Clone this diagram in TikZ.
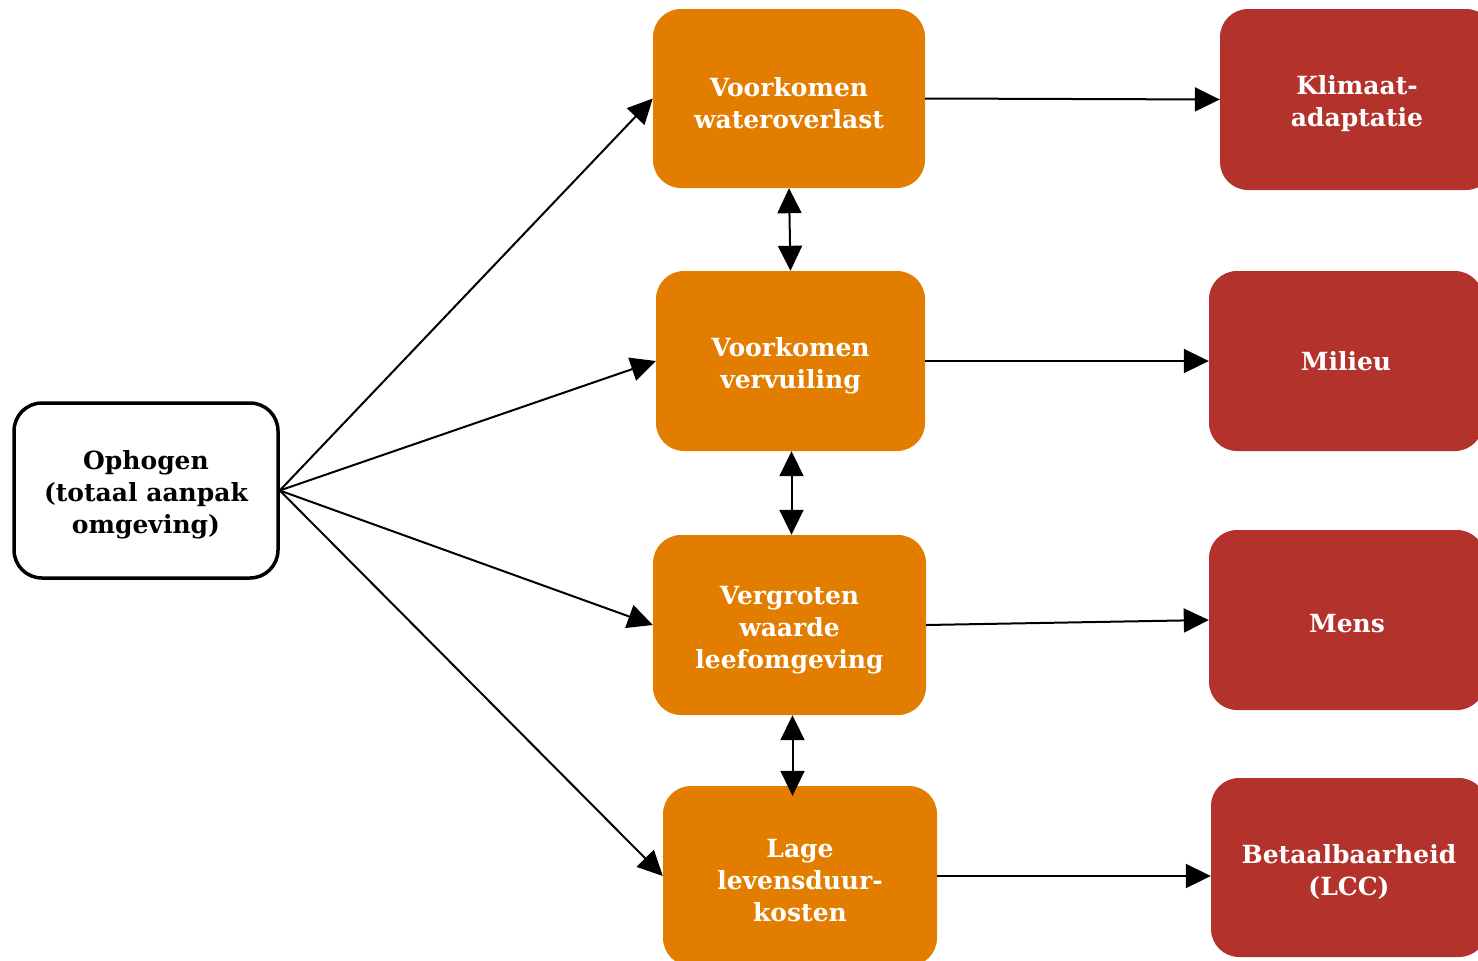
\documentclass[tikz,border=0pt]{standalone}
\usepackage{fontspec}
\setmainfont{DejaVu Serif}
\usetikzlibrary{arrows.meta}
\definecolor{orng}{RGB}{227,125,0}
\definecolor{rd}{RGB}{180,50,44}
\newcommand\liftline{\rule{0pt}{28pt}}
\begin{document}
\begin{tikzpicture}[x=1pt,y=-1pt,
 box/.style={rounded corners=28pt, align=center, font=\fontsize{25}{32}\selectfont\bfseries, inner sep=0pt},
 ob/.style={box, fill=orng, text=white},
 rb/.style={box, fill=rd, text=white},
 tip/.tip={Triangle[length=25pt,width=24pt]},
 arr/.style={line width=2pt, -tip},
 darr/.style={line width=2pt, tip-tip}]
\useasboundingbox (0,0) rectangle (1478,961);
\node[box, draw=black, line width=3.5pt, fill=white, minimum width=264pt, minimum height=175pt] (src) at (146,490.5) {\liftline Ophogen\\(totaal aanpak\\omgeving)};
\node[ob, minimum width=272pt, minimum height=179pt] (o1) at (789,98.5) {\liftline Voorkomen\\wateroverlast};
\node[ob, minimum width=269pt, minimum height=180pt] (o2) at (790.5,361) {\liftline Voorkomen\\vervuiling};
\node[ob, minimum width=273pt, minimum height=180pt] (o3) at (789.5,625) {\liftline Vergroten\\waarde\\leefomgeving};
\node[ob, minimum width=274pt, minimum height=180pt] (o4) at (800,876) {\liftline Lage\\levensduur-\\kosten};
\node[rb, minimum width=274pt, minimum height=181pt] (r1) at (1357,99.5) {\liftline Klimaat-\\adaptatie};
\node[rb, minimum width=274pt, minimum height=180pt] (r2) at (1346,361) {Milieu};
\node[rb, minimum width=276pt, minimum height=180pt] (r3) at (1347,620) {\rule{0pt}{25pt}Mens};
\node[rb, minimum width=276pt, minimum height=179pt] (r4) at (1349,867.5) {\liftline Betaalbaarheid\\(LCC)};
\draw[arr] (src.east) -- (o1.west);
\draw[arr] (src.east) -- (o2.west);
\draw[arr] (src.east) -- (o3.west);
\draw[arr] (src.east) -- (o4.west);
\draw[arr] (o1.east) -- (r1.west);
\draw[arr] (o2.east) -- (r2.west);
\draw[arr] (o3.east) -- (r3.west);
\draw[arr] (o4.east) -- (o4.east -| r4.west);
\draw[darr] (o1.south) -- (o2.north);
\draw[darr] ([xshift=1pt]o2.south) -- ([xshift=1pt]o2.south |- o3.north);
\draw[darr] ([xshift=3pt]o3.south) -- ([xshift=3pt,yshift=-10pt]o3.south |- o4.north);
\end{tikzpicture}
\end{document}
